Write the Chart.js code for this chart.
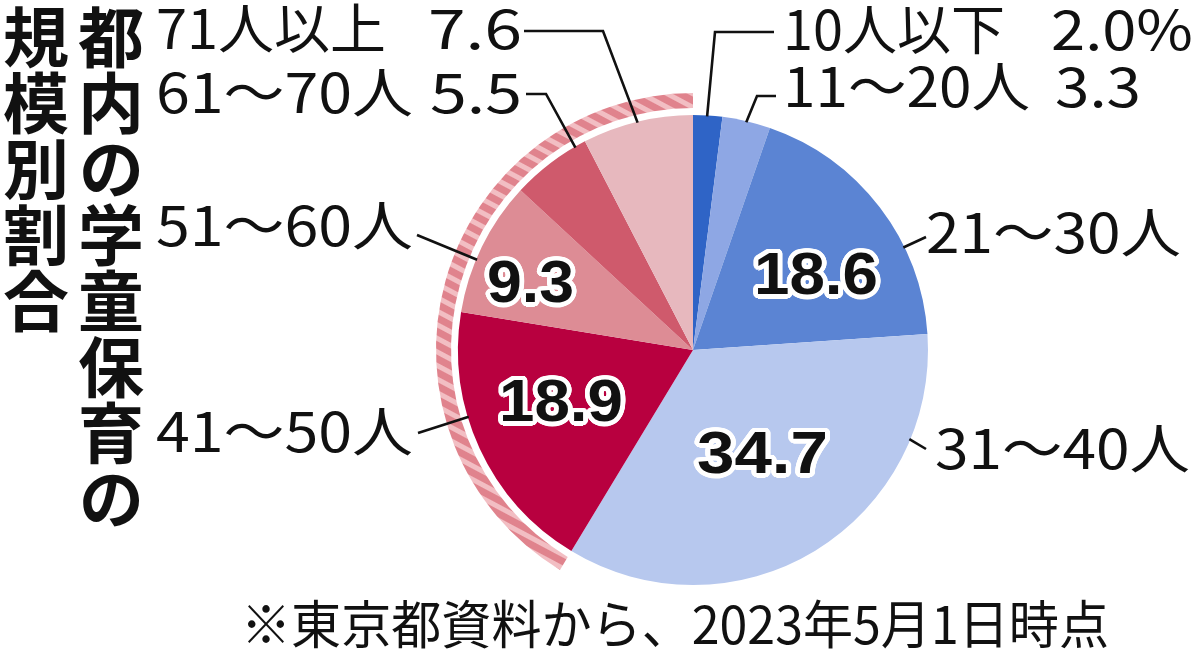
<!DOCTYPE html>
<html><head><meta charset="utf-8">
<script src="https://cdn.jsdelivr.net/npm/chart.js@4.4.0/dist/chart.umd.min.js"></script>
<style>
html,body{margin:0;padding:0;background:#fff;width:1200px;height:662px;overflow:hidden;}
#wrap{position:relative;width:1200px;height:662px;}
#c{position:absolute;left:0;top:0;}
.t{position:absolute;white-space:nowrap;line-height:1;color:#111;font-family:"Noto Sans CJK JP",sans-serif;font-weight:400;transform-origin:0 0;}
.in{position:absolute;white-space:nowrap;line-height:1;color:#111;font-family:"Liberation Sans",Arial,sans-serif;font-weight:700;transform-origin:0 0;}
.v{position:absolute;top:4px;writing-mode:vertical-rl;line-height:1;font-family:"Noto Sans CJK JP",sans-serif;font-weight:700;font-size:66px;color:#111;white-space:nowrap;}
</style>
</head><body>
<div id="wrap"><canvas id="c" width="1200" height="662"></canvas></div>
<script>
// ---- data ----
const categories = ['10人以下','11～20人','21～30人','31～40人','41～50人','51～60人','61～70人','71人以上'];
const shares = [2.0, 3.3, 18.6, 34.7, 18.9, 9.3, 5.5, 7.6];
const shareLabels = ['2.0%','3.3','18.6','34.7','18.9','9.3','5.5','7.6'];
const sliceColors = ['#2F64C6','#8EA7E4','#5B84D3','#B7C8EE','#B8003F','#DD8C95','#CF5A6C','#E7B8BE'];
const highlightFrom = 4; // 41人以上 grouped by the outer striped arc
const titleLines = ['都内の学童保育の','規模別割合'];
const note = '※東京都資料から、2023年5月1日時点';

// ---- derived ring data ----
const sum = a => a.reduce((s, v) => s + v, 0);
const ringData = [sum(shares.slice(0, highlightFrom)), sum(shares.slice(highlightFrom))];

const cv = document.getElementById('c');
const ctx = cv.getContext('2d');
function makeHatch(){
  const c = document.createElement('canvas'); c.width = 12; c.height = 12;
  const g = c.getContext('2d');
  g.fillStyle = '#F2BEC3'; g.fillRect(0,0,12,12);
  g.fillStyle = '#E0838D'; g.fillRect(0,0,12,7);
  const p = ctx.createPattern(c, 'repeat');
  p.setTransform(new DOMMatrix().rotate(28));
  return p;
}
const hatch = makeHatch();

// leader lines: slice index, fraction along slice, fixed label-side points
const leaders = [
  {i:0, f:0.48, pts:[[774,32],[715,32]]},
  {i:1, f:0.50, pts:[[776,96],[757,96]]},
  {i:2, f:0.67, pts:[[926,237]]},
  {i:3, f:0.21, pts:[[926,449]]},
  {i:4, f:0.62, pts:[[418,433]]},
  {i:5, f:0.40, pts:[[417,235]]},
  {i:6, f:0.86, pts:[[526,94],[546,94]]},
  {i:7, f:0.50, pts:[[524,31],[603,31]]}
];
const leaderPlugin = {
  id:'leaders',
  afterDatasetsDraw(chart){
    const meta = chart.getDatasetMeta(2);
    const c = chart.ctx;
    c.save();
    c.strokeStyle = '#111'; c.lineWidth = 2.6; c.lineJoin = 'miter'; c.lineCap = 'butt';
    leaders.forEach(L => {
      const p = meta.data[L.i].getProps(['x','y','startAngle','endAngle','outerRadius'], true);
      const a = p.startAngle + L.f * (p.endAngle - p.startAngle);
      const r = p.outerRadius - 1;
      c.beginPath();
      c.moveTo(L.pts[0][0], L.pts[0][1]);
      for (let k = 1; k < L.pts.length; k++) c.lineTo(L.pts[k][0], L.pts[k][1]);
      c.lineTo(p.x + r * Math.cos(a), p.y + r * Math.sin(a));
      c.stroke();
    });
    c.restore();
  }
};

new Chart(ctx, {
  type: 'doughnut',
  data: {
    labels: categories,
    datasets: [
      {data: ringData, backgroundColor: ['rgba(0,0,0,0)', hatch], weight: 15, borderWidth: 0, hoverOffset: 0},
      {data: [1], backgroundColor: ['rgba(0,0,0,0)'], weight: 7, borderWidth: 0, hoverOffset: 0},
      {data: shares, backgroundColor: sliceColors, weight: 235, borderWidth: 0, hoverOffset: 0}
    ]
  },
  options: {
    responsive: false, animation: false, events: [],
    cutout: 0, radius: 257,
    layout: {padding: {left: 436, right: 250, top: 93, bottom: 55}},
    elements: {arc: {borderWidth: 0, hoverOffset: 0, offset: 0}},
    plugins: {legend: {display: false}, tooltip: {enabled: false}, title: {display: false}}
  },
  plugins: [leaderPlugin]
});

// ---- text ----
const wrap = document.getElementById('wrap');
function addText(cls, text, x, w, cy, fs, vc){
  const d = document.createElement('div');
  d.className = cls; d.textContent = text; d.style.fontSize = fs + 'px';
  d.style.left = x + 'px'; d.style.top = (cy - vc * fs) + 'px';
  wrap.appendChild(d);
  const bw = d.getBoundingClientRect().width;
  if (bw > 0) d.style.transform = 'scaleX(' + (w / bw) + ')';
  return d;
}
// title columns (vertical)
[[78, titleLines[0]], [3, titleLines[1]]].forEach(([x, s]) => {
  const d = document.createElement('div'); d.className = 'v'; d.textContent = s; d.style.left = x + 'px'; wrap.appendChild(d);
});
const FS = 54, VC = 0.57;
const outer = [
  [categories[7], 156, 230, 30], [shareLabels[7], 428, 94, 30],
  [categories[6], 156, 257, 94], [shareLabels[6], 430, 92, 94],
  [categories[5], 156, 257, 227],
  [categories[4], 156, 257, 433],
  [categories[0], 783, 222, 31], [shareLabels[0], 1051, 142, 31],
  [categories[1], 783, 247, 88], [shareLabels[1], 1055, 86, 88],
  [categories[2], 926, 255, 234],
  [categories[3], 935, 255, 450]
];
outer.forEach(o => addText('t', o[0], o[1], o[2], o[3], FS, VC));
addText('t', note, 241, 868, 626, 52, VC);

// inner value labels with white halo
let sh = [];
for (let k = 0; k < 24; k++) { const a = k / 24 * Math.PI * 2; sh.push((4.5*Math.cos(a)).toFixed(2)+'px '+(4.5*Math.sin(a)).toFixed(2)+'px 0 #fff'); }
const inner = [[shareLabels[2], 754, 124, 273], [shareLabels[3], 697, 131, 452], [shareLabels[4], 499, 124, 400], [shareLabels[5], 487, 87, 281]];
inner.forEach(o => { const d = addText('in', o[0], o[1], o[2], o[3], 60, 0.49); d.style.textShadow = sh.join(','); });
</script>
</body></html>
